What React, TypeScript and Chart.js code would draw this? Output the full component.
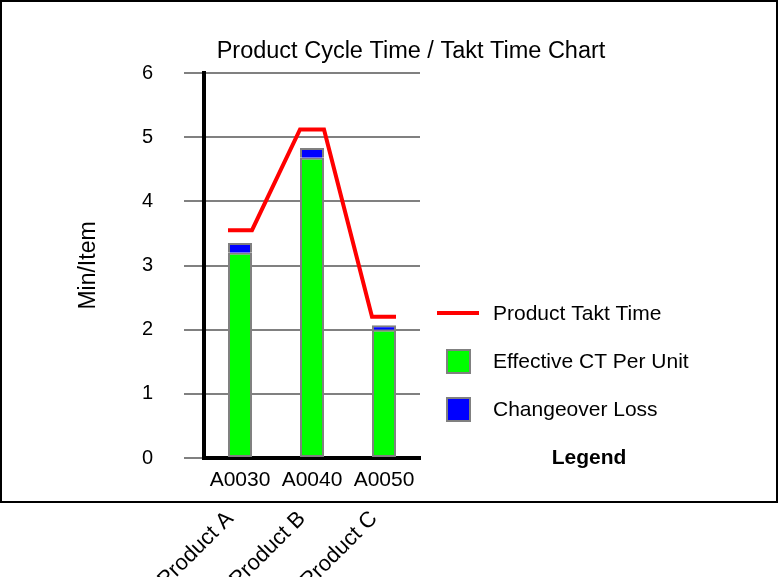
import React, { useEffect, useRef } from 'react';
import { Chart, registerables } from 'chart.js';

Chart.register(...registerables);

// ---- data ----
const categories = ['A0030', 'A0040', 'A0050'];
const products = ['Product A', 'Product B', 'Product C'];
const effectiveCT = [3.2, 4.68, 2.0];
const changeoverLoss = [0.15, 0.15, 0.07];
const taktTime = [3.55, 5.12, 2.2];
const yMin = 0;
const yMax = 6;
const yStep = 1;
const chartTitle = 'Product Cycle Time / Takt Time Chart';
const yTitle = 'Min/Item';
const legendTitle = 'Legend';

const FONT = "'Liberation Sans', Arial, Helvetica, sans-serif";

const framePlugin = {
  id: 'frame',
  beforeDraw(chart: any) {
    const { ctx } = chart;
    ctx.save();
    ctx.fillStyle = '#ffffff';
    ctx.fillRect(0, 0, chart.width, chart.height);
    ctx.strokeStyle = '#000000';
    ctx.lineWidth = 2;
    ctx.strokeRect(1, 1, 776, 501);
    ctx.restore();
  },
};

const titlePlugin = {
  id: 'customTitle',
  afterDraw(chart: any) {
    const { ctx } = chart;
    ctx.save();
    ctx.fillStyle = '#000';
    ctx.font = `23.5px ${FONT}`;
    ctx.textAlign = 'center';
    ctx.textBaseline = 'alphabetic';
    ctx.fillText(chartTitle, 411, 57.5);
    ctx.restore();
  },
};

const taktPlugin = {
  id: 'taktSteps',
  beforeDatasetDraw(chart: any, args: any) {
    const meta = args.meta;
    if (meta.type !== 'line') return;
    const barMeta = chart.getDatasetMeta(1);
    const ds = chart.data.datasets[args.index];
    const { ctx } = chart;
    ctx.save();
    ctx.strokeStyle = ds.borderColor;
    ctx.lineWidth = ds.borderWidth;
    ctx.lineJoin = 'miter';
    ctx.lineCap = 'butt';
    ctx.beginPath();
    meta.data.forEach((pt: any, i: number) => {
      const bar = barMeta.data[i];
      const half = bar.width / 2;
      if (i === 0) ctx.moveTo(bar.x - half, pt.y);
      else ctx.lineTo(bar.x - half, pt.y);
      ctx.lineTo(bar.x + half, pt.y);
    });
    ctx.stroke();
    ctx.restore();
    return false;
  },
};

const legendPlugin = {
  id: 'customLegend',
  afterDraw(chart: any) {
    const { ctx } = chart;
    const datasets = chart.data.datasets;
    ctx.save();
    ctx.font = `21px ${FONT}`;
    ctx.textBaseline = 'alphabetic';
    ctx.textAlign = 'left';
    datasets.forEach((ds: any, i: number) => {
      const base = 320 + i * 48;
      const mid = base - 7;
      if (ds.type === 'line') {
        ctx.strokeStyle = ds.borderColor;
        ctx.lineWidth = ds.borderWidth;
        ctx.beginPath();
        ctx.moveTo(437, mid);
        ctx.lineTo(479, mid);
        ctx.stroke();
      } else {
        ctx.fillStyle = ds.backgroundColor;
        ctx.fillRect(446, mid - 12, 25, 25);
        ctx.strokeStyle = ds.borderColor;
        ctx.lineWidth = 2;
        ctx.strokeRect(447, mid - 11, 23, 23);
      }
      ctx.fillStyle = '#000';
      ctx.fillText(ds.label, 493, base);
    });
    ctx.font = `bold 21px ${FONT}`;
    ctx.textAlign = 'center';
    ctx.fillText(legendTitle, 589, 320 + datasets.length * 48);
    ctx.restore();
  },
};

export default function App() {
  const canvasRef = useRef<HTMLCanvasElement | null>(null);

  useEffect(() => {
    if (!canvasRef.current) return;
    Chart.defaults.font.family = FONT;
    const chart = new Chart(canvasRef.current, {
      type: 'bar',
      data: {
        labels: categories,
        datasets: [
          {
            type: 'line',
            label: 'Product Takt Time',
            data: taktTime,
            borderColor: '#ff0000',
            borderWidth: 4,
            pointRadius: 0,
            stack: 'takt',
            xAxisID: 'x',
            yAxisID: 'y',
          } as any,
          {
            type: 'bar',
            label: 'Effective CT Per Unit',
            data: effectiveCT,
            backgroundColor: '#00ff00',
            borderColor: '#808080',
            borderWidth: 2,
            borderSkipped: false,
            stack: 'ct',
            categoryPercentage: 1,
            barPercentage: 1 / 3,
            xAxisID: 'x',
            yAxisID: 'y',
          },
          {
            type: 'bar',
            label: 'Changeover Loss',
            data: changeoverLoss,
            backgroundColor: '#0000ff',
            borderColor: '#808080',
            borderWidth: 2,
            borderSkipped: 'start',
            stack: 'ct',
            categoryPercentage: 1,
            barPercentage: 1 / 3,
            xAxisID: 'x',
            yAxisID: 'y',
          },
        ],
      },
      options: {
        responsive: true,
        maintainAspectRatio: false,
        animation: false,
        layout: { padding: { top: 73, left: 0, right: 359, bottom: 0 } },
        plugins: {
          legend: { display: false },
          title: { display: false },
          tooltip: { enabled: false },
        },
        scales: {
          x: {
            type: 'category',
            position: 'bottom',
            weight: 0,
            offset: true,
            stacked: true,
            grid: { display: false, drawTicks: false },
            border: { display: true, color: '#000', width: 4 },
            ticks: { color: '#000', font: { size: 21 }, padding: 10, autoSkip: false, maxRotation: 0 },
            afterFit: (s: any) => { s.height = 40; },
          },
          x2: {
            type: 'category',
            labels: products,
            position: 'bottom',
            weight: 1,
            offset: true,
            grid: { display: false, drawTicks: false },
            border: { display: false },
            ticks: { color: '#000', font: { size: 22 }, padding: 8, minRotation: 45, maxRotation: 45, autoSkip: false, labelOffset: -10 },
            afterFit: (s: any) => { s.height = 79; },
          },
          y: {
            type: 'linear',
            min: yMin,
            max: yMax,
            stacked: true,
            ticks: { stepSize: yStep, color: '#000', font: { size: 20 }, padding: 31 },
            grid: { color: '#808080', lineWidth: 2, tickLength: 20, drawTicks: true },
            border: { display: true, color: '#000', width: 4 },
            title: { display: true, text: yTitle, color: '#000', font: { size: 23 }, padding: { top: 75, bottom: 0 } },
            afterFit: (s: any) => { s.width = 204; },
          },
        },
      } as any,
      plugins: [framePlugin, titlePlugin, taktPlugin, legendPlugin],
    });
    return () => chart.destroy();
  }, []);

  return (
    <div style={{ position: 'fixed', left: 0, top: 0, width: 779, height: 577, background: '#fff' }}>
      <canvas ref={canvasRef} />
    </div>
  );
}
